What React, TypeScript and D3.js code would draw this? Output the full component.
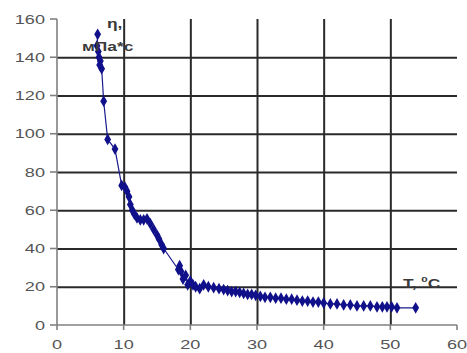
import { useEffect, useRef } from 'react';
import * as d3 from 'd3';

// temperature, °C
const temperature = [
  6.1, 6.0, 6.2, 6.3, 6.5, 6.4, 6.7, 7.0, 7.6, 8.7,
  9.7, 10.2, 10.5, 10.8, 11.0, 11.3, 11.6, 12.0, 12.5, 13.0, 13.5, 14.0, 14.5, 15.0, 15.3, 15.7, 16.0,
  18.2, 18.4, 18.6, 18.9, 19.3, 19.6, 20.0, 20.4, 20.8, 21.4, 22.0, 22.7,
  23.5, 24.3, 25.0, 25.6, 26.2, 26.8, 27.4, 28.0, 28.6, 29.2, 29.8,
  30.5, 31.2, 32.0, 32.8, 33.6, 34.4, 35.2, 36.0, 36.8, 37.6, 38.4, 39.2,
  40.0, 41.0, 42.0, 43.0, 44.0, 45.0, 46.0, 47.0, 48.0, 48.8, 49.5, 50.2, 51.0, 53.8,
];
// viscosity, mPa*s
const viscosity = [
  152, 146, 143, 140, 138, 136, 134, 117, 97, 92,
  73, 72, 70, 67, 63, 60, 58, 56, 55, 55, 55.5, 53, 50, 47, 45, 42, 40,
  29, 31, 28, 24, 26, 21, 23, 21, 20, 19, 21, 20,
  19.5, 19, 18.5, 18, 17.5, 17.5, 17, 16.5, 16, 16, 15.5,
  15, 14.5, 14.5, 14, 14, 13.5, 13.5, 13, 12.5, 12.5, 12, 12,
  11.5, 11, 11, 10.5, 10.5, 10, 10, 10, 9.5, 9.5, 9.5, 9.5, 9, 9,
];
const xTicks = [0, 10, 20, 30, 40, 50, 60];
const yTicks = [0, 20, 40, 60, 80, 100, 120, 140, 160];
const xGrid = [10, 20, 30, 40, 50];
const yGrid = [20, 40, 60, 80, 100, 120, 140];

const W = 467;
const H = 353;
const SX = 1.45; // the source picture is stretched sideways

const margin = { top: 19, right: 10, bottom: 28, left: 57 };
const x = d3.scaleLinear().domain([0, 60]).range([margin.left, W - margin.right]);
const y = d3.scaleLinear().domain([0, 160]).range([H - margin.bottom, margin.top]);

export default function App() {
  const svgRef = useRef<SVGSVGElement>(null);

  useEffect(() => {
    if (!svgRef.current) return;
    const svg = d3.select(svgRef.current).select<SVGGElement>('g.plot');
    svg.selectAll('*').remove();

    // grid via d3 axes with full-length ticks
    const gridY = svg.append('g')
      .attr('transform', `translate(${x(0)},0)`)
      .call(d3.axisLeft(y).tickValues(yGrid).tickSize(-(x(60) - x(0))).tickFormat(() => ''));
    gridY.select('.domain').remove();
    gridY.selectAll('line').attr('stroke', '#2a2a2a').attr('stroke-width', 2);

    const gridX = svg.append('g')
      .attr('transform', `translate(0,${y(0)})`)
      .call(d3.axisBottom(x).tickValues(xGrid).tickSize(-(y(0) - y(160))).tickFormat(() => ''));
    gridX.select('.domain').remove();
    gridX.selectAll('line').attr('stroke', '#2a2a2a').attr('stroke-width', 2);

    // axes
    const axes = svg.append('g').attr('stroke', '#808080').attr('stroke-width', 1.6);
    axes.append('line').attr('x1', x(0)).attr('x2', x(0)).attr('y1', y(160)).attr('y2', y(0));
    axes.append('line').attr('x1', x(0)).attr('x2', x(60)).attr('y1', y(0)).attr('y2', y(0));
    yTicks.forEach(d => {
      axes.append('line').attr('x1', x(0) - 7).attr('x2', x(0)).attr('y1', y(d)).attr('y2', y(d));
    });
    xTicks.forEach(d => {
      axes.append('line').attr('x1', x(d)).attr('x2', x(d)).attr('y1', y(0)).attr('y2', y(0) + 5);
    });

    const label = (g: any, tx: number, ty: number, text: string, anchor: string) =>
      g.append('text')
        .attr('transform', `translate(${tx},${ty}) scale(${SX},1)`)
        .attr('text-anchor', anchor)
        .text(text);

    const ticks = svg.append('g')
      .attr('font-family', 'Liberation Sans, Arial, sans-serif')
      .attr('font-size', 12.5)
      .attr('fill', '#555');
    yTicks.forEach(d => label(ticks, x(0) - 12, y(d) + 4.5, String(d), 'end'));
    xTicks.forEach(d => label(ticks, x(d), H - 4, String(d), 'middle'));

    // series
    const pts = temperature.map((t, i) => [t, viscosity[i]] as [number, number]);
    svg.append('path')
      .datum(pts)
      .attr('fill', 'none')
      .attr('stroke', '#1a1a8c')
      .attr('stroke-width', 1.2)
      .attr('d', d3.line().x(d => x(d[0])).y(d => y(d[1])));

    svg.append('g')
      .selectAll('path')
      .data(pts)
      .join('path')
      .attr('transform', d => `translate(${x(d[0])},${y(d[1])})`)
      .attr('d', d3.symbol(d3.symbolDiamond, 40))
      .attr('fill', '#10108a');

    // axis titles
    const titles = svg.append('g')
      .attr('font-family', 'Liberation Sans, Arial, sans-serif')
      .attr('font-weight', 'bold')
      .attr('font-size', 12)
      .attr('fill', '#3a3a3a');
    label(titles, 107, 28, 'η,', 'start');
    label(titles, 82, 51, 'мПа*с', 'start');
    const tLabel = titles.append('text')
      .attr('transform', `translate(403,288) scale(${SX},1)`);
    tLabel.append('tspan').text('T, ');
    tLabel.append('tspan').attr('dy', -6).attr('font-size', 8).text('0');
    tLabel.append('tspan').attr('dy', 6).text('C');
  }, []);

  return (
    <div style={{ position: 'absolute', left: 0, top: 0 }}>
      <svg ref={svgRef} width={W} height={H} style={{ display: 'block', background: '#fff' }}>
        <g className="plot" />
      </svg>
    </div>
  );
}
